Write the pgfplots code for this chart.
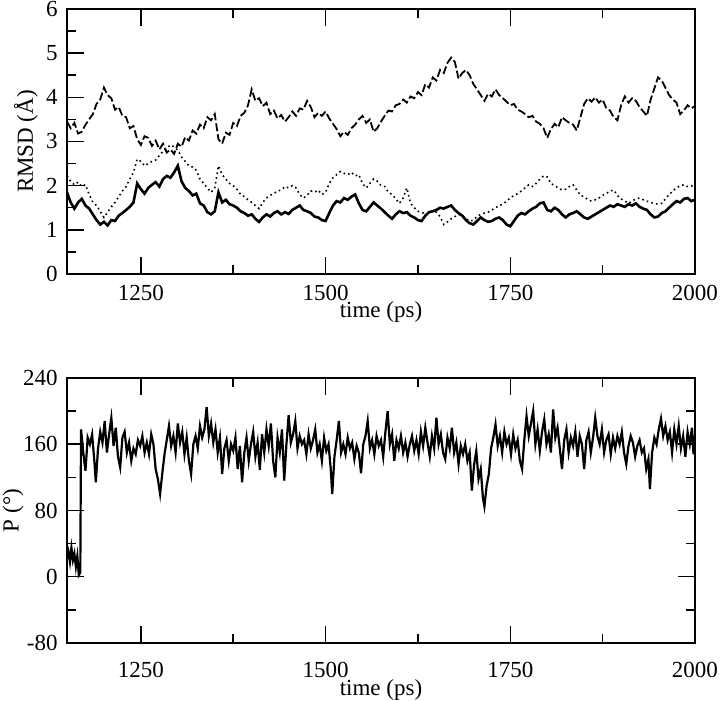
\documentclass[border=0pt]{standalone}
\usepackage{fontspec}
\setmainfont{Liberation Serif}
\usepackage{pgfplots}
\pgfplotsset{compat=1.18}

\pgfplotsset{
  mdstyle/.style={
    scale only axis, width=314pt, height=132.5pt,
    xmin=1150, xmax=2000,
    xtick={1250,1500,1750,2000}, minor x tick num=1,
    tick align=inside, axis line style={line width=0.75pt},
    major tick length=8.5pt, minor tick length=4.5pt,
    every tick/.style={black,line width=0.75pt},
    /pgf/number format/assume math mode=true,
    /pgf/number format/1000 sep={},
    tick label style={font=\fontsize{11.5}{13}\selectfont},
    label style={font=\fontsize{11.5}{13}\selectfont},
    yticklabel style={anchor=east,inner sep=0pt,xshift=-4.5pt},
    xlabel={time (ps)},
    xlabel style={at={(axis description cs:0.5,0)},anchor=north,inner sep=0pt},
  }
}

\begin{document}
\fontsize{11.5}{13}\selectfont
\begin{tikzpicture}
% top panel: RMSD
\begin{axis}[mdstyle, at={(33.5pt,-4.5pt)}, anchor=north west,
  ymin=0, ymax=6, ytick={0,1,...,6}, minor y tick num=1,
  xtick pos=both, ytick pos=left,
  xticklabel style={anchor=north,inner sep=0pt,yshift=-5.5pt},
  xlabel style={yshift=-13.5pt},
  ylabel={RMSD (Å)},
  ylabel style={at={(axis description cs:0,0.5)},anchor=center,yshift=20.5pt}]
\addplot[black,line width=0.9pt,dash pattern=on 4pt off 1.5pt] coordinates {
(1150,3.45)(1155,3.30)(1160,3.42)(1165,3.18)(1170,3.22)(1175,3.38)(1180,3.50)(1185,3.62)(1190,3.85)(1195,3.95)
(1200,4.22)(1205,4.05)(1210,3.98)(1215,3.72)(1220,3.78)(1225,3.58)(1230,3.55)(1235,3.30)(1240,3.35)(1245,3.05)
(1250,2.92)(1255,3.12)(1260,3.08)(1265,2.90)(1270,3.02)(1275,2.82)(1280,2.95)(1285,2.75)(1290,2.82)(1295,2.72)
(1300,2.95)(1305,2.88)(1310,3.10)(1315,3.02)(1320,3.25)(1325,3.18)(1330,3.38)(1335,3.30)(1340,3.55)(1345,3.48)
(1350,3.62)(1355,3.05)(1360,2.95)(1365,3.20)(1370,3.15)(1375,3.42)(1380,3.35)(1385,3.58)(1390,3.65)(1395,3.82)
(1400,4.18)(1405,3.92)(1410,3.98)(1415,3.80)(1420,3.88)(1425,3.62)(1430,3.70)(1435,3.52)(1440,3.60)(1445,3.45)
(1450,3.55)(1455,3.68)(1460,3.58)(1465,3.75)(1470,3.72)(1475,3.92)(1480,3.78)(1485,3.55)(1490,3.65)(1495,3.58)
(1500,3.68)(1505,3.52)(1510,3.40)(1515,3.28)(1520,3.12)(1525,3.22)(1530,3.15)(1535,3.30)(1540,3.38)(1545,3.50)
(1550,3.58)(1555,3.42)(1560,3.50)(1565,3.22)(1570,3.30)(1575,3.45)(1580,3.58)(1585,3.70)(1590,3.68)(1595,3.82)
(1600,3.85)(1605,3.95)(1610,3.88)(1615,4.02)(1620,3.98)(1625,4.12)(1630,4.05)(1635,4.30)(1640,4.22)(1645,4.45)
(1650,4.38)(1655,4.62)(1660,4.55)(1665,4.78)(1670,4.90)(1675,4.80)(1680,4.42)(1685,4.55)(1690,4.62)(1695,4.50)
(1700,4.30)(1705,4.18)(1710,4.05)(1715,3.92)(1720,4.08)(1725,4.02)(1730,4.18)(1735,4.05)(1740,3.98)(1745,3.90)
(1750,3.82)(1755,3.85)(1760,3.72)(1765,3.68)(1770,3.62)(1775,3.55)(1780,3.58)(1785,3.45)(1790,3.40)(1795,3.30)
(1800,3.08)(1805,3.28)(1810,3.40)(1815,3.32)(1820,3.55)(1825,3.48)(1830,3.42)(1835,3.38)(1840,3.25)(1845,3.55)
(1850,3.85)(1855,3.98)(1860,3.90)(1865,4.00)(1870,3.88)(1875,3.95)(1880,3.75)(1885,3.70)(1890,3.55)(1895,3.48)
(1900,3.82)(1905,4.02)(1910,3.88)(1915,3.98)(1920,3.92)(1925,3.78)(1930,3.68)(1935,3.58)(1940,3.95)(1945,4.20)
(1950,4.45)(1955,4.38)(1960,4.22)(1965,4.05)(1970,3.95)(1975,3.88)(1980,3.62)(1985,3.70)(1990,3.82)(1995,3.75)
(2000,3.80)};
\addplot[black,line width=0.8pt,dash pattern=on 0.8pt off 1.6pt] coordinates {
(1150,2.22)(1155,2.10)(1160,2.02)(1165,2.08)(1170,1.98)(1175,2.02)(1180,1.80)(1185,1.62)(1190,1.55)(1195,1.42)
(1200,1.28)(1205,1.40)(1210,1.52)(1215,1.62)(1220,1.75)(1225,1.88)(1230,1.98)(1235,2.15)(1240,2.30)(1245,2.60)
(1250,2.55)(1255,2.45)(1260,2.50)(1265,2.55)(1270,2.58)(1275,2.68)(1280,2.78)(1285,2.85)(1290,2.92)(1295,2.88)
(1300,2.80)(1305,2.65)(1310,2.55)(1315,2.45)(1320,2.42)(1325,2.35)(1330,2.15)(1335,2.05)(1340,1.95)(1345,1.85)
(1350,1.95)(1355,2.45)(1360,2.25)(1365,2.15)(1370,2.05)(1375,2.00)(1380,1.92)(1385,1.80)(1390,1.75)(1395,1.68)
(1400,1.62)(1405,1.55)(1410,1.48)(1415,1.62)(1420,1.72)(1425,1.78)(1430,1.82)(1435,1.88)(1440,1.90)(1445,1.98)
(1450,1.95)(1455,2.00)(1460,1.95)(1465,1.80)(1470,1.72)(1475,1.78)(1480,1.88)(1485,1.85)(1490,1.90)(1495,1.80)
(1500,1.85)(1505,2.05)(1510,2.18)(1515,2.25)(1520,2.32)(1525,2.28)(1530,2.25)(1535,2.30)(1540,2.22)(1545,2.25)
(1550,2.05)(1555,1.95)(1560,2.05)(1565,2.15)(1570,2.10)(1575,2.00)(1580,1.98)(1585,1.85)(1590,1.80)(1595,1.70)
(1600,1.60)(1605,1.72)(1610,1.95)(1615,1.60)(1620,1.50)(1625,1.42)(1630,1.40)(1635,1.35)(1640,1.38)(1645,1.42)
(1650,1.40)(1655,1.30)(1660,1.12)(1665,1.18)(1670,1.25)(1675,1.30)(1680,1.35)(1685,1.32)(1690,1.25)(1695,1.20)
(1700,1.22)(1705,1.30)(1710,1.35)(1715,1.38)(1720,1.40)(1725,1.45)(1730,1.50)(1735,1.55)(1740,1.58)(1745,1.65)
(1750,1.72)(1755,1.78)(1760,1.82)(1765,1.88)(1770,1.95)(1775,2.02)(1780,1.98)(1785,2.05)(1790,2.15)(1795,2.22)
(1800,2.20)(1805,2.05)(1810,2.00)(1815,1.95)(1820,1.90)(1825,1.92)(1830,1.98)(1835,2.02)(1840,1.90)(1845,1.78)
(1850,1.75)(1855,1.68)(1860,1.65)(1865,1.68)(1870,1.72)(1875,1.78)(1880,1.82)(1885,1.88)(1890,1.90)(1895,1.78)
(1900,1.70)(1905,1.65)(1910,1.60)(1915,1.65)(1920,1.70)(1925,1.72)(1930,1.68)(1935,1.65)(1940,1.62)(1945,1.60)
(1950,1.58)(1955,1.60)(1960,1.70)(1965,1.80)(1970,1.88)(1975,1.95)(1980,2.00)(1985,2.02)(1990,1.98)(1995,2.00)
(2000,1.95)};
\addplot[black,line width=1.3pt] coordinates {
(1150,1.85)(1155,1.62)(1160,1.48)(1165,1.62)(1170,1.70)(1175,1.55)(1180,1.48)(1185,1.35)(1190,1.22)(1195,1.12)
(1200,1.18)(1205,1.10)(1210,1.22)(1215,1.20)(1220,1.32)(1225,1.38)(1230,1.45)(1235,1.52)(1240,1.62)(1245,2.05)
(1250,1.92)(1255,1.82)(1260,1.95)(1265,2.02)(1270,2.08)(1275,1.98)(1280,2.15)(1285,2.22)(1290,2.18)(1295,2.30)
(1300,2.45)(1305,2.10)(1310,1.95)(1315,1.88)(1320,1.78)(1325,1.82)(1330,1.60)(1335,1.55)(1340,1.40)(1345,1.35)
(1350,1.42)(1355,1.85)(1360,1.62)(1365,1.68)(1370,1.58)(1375,1.55)(1380,1.50)(1385,1.42)(1390,1.38)(1395,1.32)
(1400,1.35)(1405,1.25)(1410,1.18)(1415,1.28)(1420,1.35)(1425,1.30)(1430,1.38)(1435,1.42)(1440,1.35)(1445,1.40)
(1450,1.36)(1455,1.45)(1460,1.50)(1465,1.55)(1470,1.45)(1475,1.42)(1480,1.38)(1485,1.30)(1490,1.28)(1495,1.22)
(1500,1.20)(1505,1.38)(1510,1.55)(1515,1.65)(1520,1.62)(1525,1.72)(1530,1.68)(1535,1.75)(1540,1.80)(1545,1.60)
(1550,1.45)(1555,1.42)(1560,1.52)(1565,1.62)(1570,1.55)(1575,1.48)(1580,1.40)(1585,1.32)(1590,1.25)(1595,1.35)
(1600,1.42)(1605,1.38)(1610,1.40)(1615,1.32)(1620,1.28)(1625,1.22)(1630,1.20)(1635,1.32)(1640,1.40)(1645,1.42)
(1650,1.45)(1655,1.50)(1660,1.48)(1665,1.52)(1670,1.55)(1675,1.45)(1680,1.38)(1685,1.32)(1690,1.22)(1695,1.15)
(1700,1.12)(1705,1.20)(1710,1.28)(1715,1.22)(1720,1.18)(1725,1.20)(1730,1.25)(1735,1.28)(1740,1.22)(1745,1.12)
(1750,1.08)(1755,1.20)(1760,1.32)(1765,1.38)(1770,1.35)(1775,1.42)(1780,1.48)(1785,1.52)(1790,1.60)(1795,1.62)
(1800,1.45)(1805,1.42)(1810,1.50)(1815,1.45)(1820,1.35)(1825,1.28)(1830,1.35)(1835,1.38)(1840,1.42)(1845,1.35)
(1850,1.28)(1855,1.25)(1860,1.30)(1865,1.35)(1870,1.40)(1875,1.45)(1880,1.50)(1885,1.55)(1890,1.52)(1895,1.58)
(1900,1.55)(1905,1.52)(1910,1.58)(1915,1.55)(1920,1.60)(1925,1.52)(1930,1.48)(1935,1.45)(1940,1.35)(1945,1.28)
(1950,1.30)(1955,1.38)(1960,1.42)(1965,1.50)(1970,1.58)(1975,1.65)(1980,1.62)(1985,1.70)(1990,1.72)(1995,1.65)
(2000,1.68)};
\end{axis}

% bottom panel: pseudorotation phase
\begin{axis}[mdstyle, at={(33.5pt,-189pt)}, anchor=north west,
  ymin=-80, ymax=240, ytick={-80,0,...,240}, minor y tick num=1,
  xtick pos=both, ytick pos=both,
  xticklabel style={anchor=north,inner sep=0pt,yshift=-9.5pt},
  xlabel style={yshift=-18pt},
  ylabel={P (°)},
  ylabel style={at={(axis description cs:0,0.5)},anchor=center,yshift=27pt}]
\addplot[black,line width=1.1pt] coordinates {
(1150,22)(1152,30)(1154,18)(1156,35)(1158,20)(1160,28)(1162,12)(1164,25)(1166,2)(1168,5)
(1169,178)(1172,150)(1175,128)(1178,168)(1181,160)(1184,172)(1187,140)(1189,114)(1192,155)(1195,175)
(1198,162)(1201,188)(1204,150)(1207,172)(1210,192)(1213,158)(1216,180)(1219,145)(1222,132)(1225,168)
(1228,175)(1231,150)(1234,162)(1237,140)(1240,155)(1243,148)(1246,165)(1249,158)(1252,170)(1255,150)
(1258,162)(1261,148)(1264,172)(1267,160)(1270,130)(1273,118)(1276,100)(1279,125)(1282,148)(1285,165)
(1288,182)(1291,158)(1294,170)(1297,150)(1300,185)(1303,162)(1306,175)(1309,148)(1312,168)(1315,140)
(1318,124)(1321,160)(1324,170)(1327,155)(1330,182)(1333,168)(1336,178)(1339,205)(1342,170)(1345,185)
(1348,162)(1351,178)(1354,150)(1357,168)(1360,124)(1363,155)(1366,165)(1369,140)(1372,160)(1375,152)
(1378,168)(1381,130)(1384,158)(1387,114)(1390,150)(1393,168)(1396,140)(1399,160)(1402,175)(1405,145)
(1408,162)(1411,129)(1414,172)(1417,150)(1420,178)(1423,158)(1426,185)(1429,140)(1432,120)(1435,168)
(1438,150)(1441,178)(1444,116)(1447,160)(1450,195)(1453,162)(1456,172)(1459,188)(1462,155)(1465,170)
(1468,160)(1471,165)(1474,148)(1477,172)(1480,155)(1483,165)(1486,178)(1489,150)(1492,160)(1495,140)
(1498,168)(1501,152)(1504,160)(1507,130)(1509,100)(1512,145)(1515,165)(1518,188)(1521,150)(1524,160)
(1527,148)(1530,168)(1533,155)(1536,162)(1539,142)(1542,158)(1545,150)(1548,125)(1551,160)(1554,170)
(1557,188)(1560,155)(1563,165)(1566,148)(1569,170)(1572,158)(1575,165)(1578,145)(1581,175)(1584,200)
(1587,160)(1590,172)(1593,140)(1596,165)(1599,155)(1602,170)(1605,150)(1608,162)(1611,145)(1614,160)
(1617,170)(1620,152)(1623,165)(1626,148)(1629,175)(1632,158)(1635,180)(1638,162)(1641,145)(1644,170)
(1647,155)(1650,192)(1653,160)(1656,172)(1659,150)(1662,142)(1665,168)(1668,155)(1671,180)(1674,150)
(1677,162)(1680,136)(1683,158)(1686,148)(1689,160)(1692,140)(1695,150)(1698,104)(1701,135)(1704,152)
(1707,118)(1710,130)(1713,95)(1715,85)(1718,110)(1721,124)(1724,155)(1727,168)(1730,184)(1733,158)
(1736,170)(1739,150)(1742,175)(1745,160)(1748,168)(1751,148)(1754,172)(1757,155)(1760,165)(1763,140)
(1766,130)(1769,165)(1772,194)(1775,170)(1778,185)(1781,200)(1784,160)(1787,178)(1790,152)(1793,175)
(1796,190)(1799,160)(1802,172)(1805,150)(1808,202)(1811,168)(1814,180)(1817,155)(1820,130)(1823,165)
(1826,178)(1829,150)(1832,168)(1835,158)(1838,175)(1841,145)(1844,170)(1847,160)(1850,130)(1853,165)
(1856,175)(1859,150)(1862,168)(1865,192)(1868,170)(1871,160)(1874,178)(1877,150)(1880,165)(1883,172)
(1886,148)(1889,168)(1892,155)(1895,170)(1898,160)(1901,175)(1904,150)(1907,136)(1910,158)(1913,170)
(1916,162)(1919,145)(1922,158)(1925,165)(1928,150)(1931,155)(1934,130)(1937,142)(1939,106)(1942,150)
(1945,168)(1948,160)(1951,178)(1954,191)(1957,170)(1960,182)(1963,165)(1966,175)(1969,150)(1972,178)
(1975,160)(1978,182)(1981,155)(1984,170)(1987,145)(1990,175)(1993,160)(1996,180)(1998,148)(2000,170)};
\end{axis}
\pgfresetboundingbox
\path (0,0) rectangle (360pt,-350.5pt);
\end{tikzpicture}
\end{document}
